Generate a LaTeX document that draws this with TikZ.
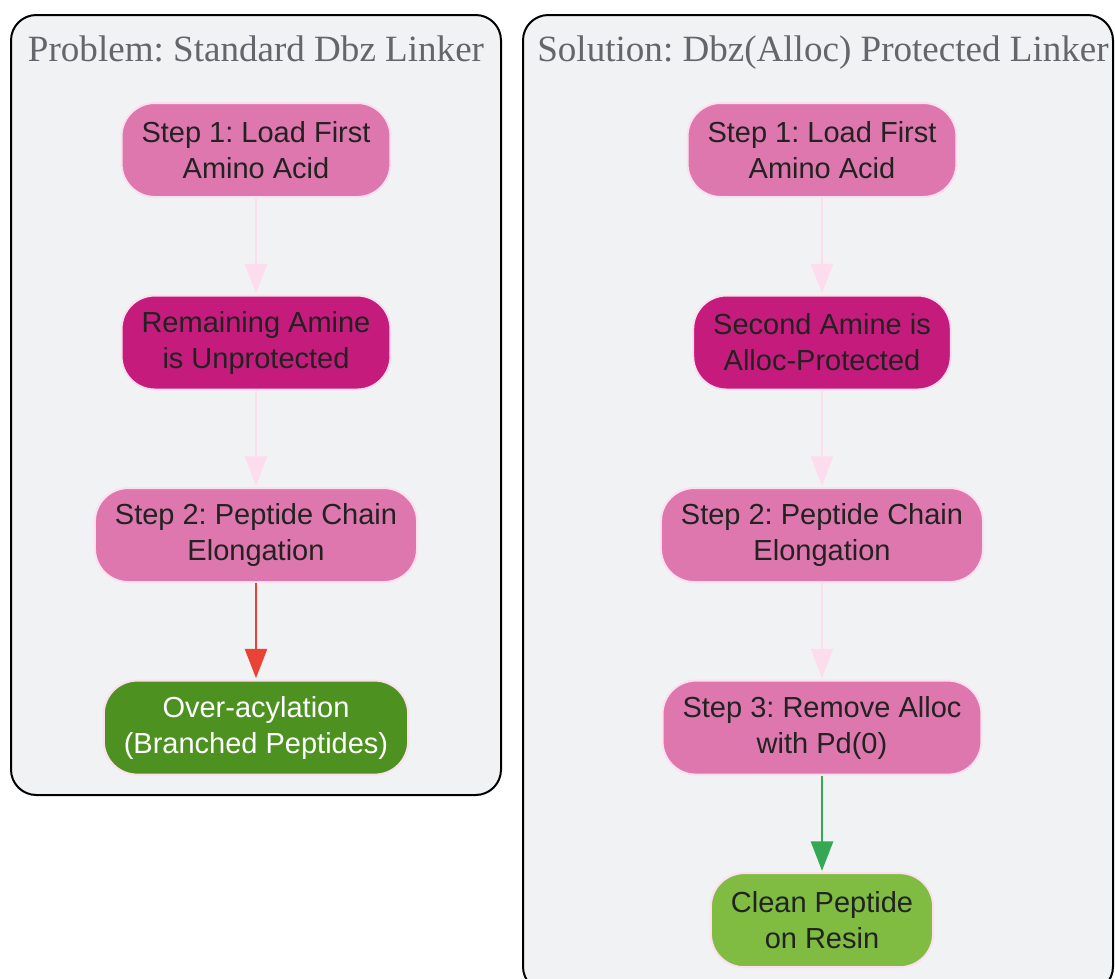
\documentclass[tikz,border=0pt]{standalone}
\usepackage{fontspec}
\setmainfont{Liberation Sans}
\newfontfamily\titlefont{Liberation Serif}
\usepackage{tikz}
\usetikzlibrary{positioning,arrows.meta}
\frenchspacing

\definecolor{panelfill}{HTML}{F1F2F4}
\definecolor{titlegray}{HTML}{63666A}
\definecolor{stepfill}{HTML}{DE77AE}
\definecolor{aminefill}{HTML}{C51B7D}
\definecolor{badfill}{HTML}{4D9221}
\definecolor{goodfill}{HTML}{7FBC41}
\definecolor{nodeline}{HTML}{FDE0EF}
\definecolor{nodetext}{HTML}{222222}
\definecolor{softarrow}{HTML}{FDDDED}
\definecolor{redarrow}{HTML}{EA4335}
\definecolor{greenarrow}{HTML}{34A853}

\begin{document}
\begin{tikzpicture}[x=0.75pt, y=-0.75pt, node distance=72.4pt,
    panel/.style={draw=black, line width=1.5pt, fill=panelfill, rounded corners=19pt},
    paneltitle/.style={text=titlegray, anchor=base, font=\titlefont\fontsize{27.8}{32}\selectfont},
    stepbox/.style={rectangle, rounded corners=25pt, draw=nodeline, line width=1.5pt, fill=stepfill,
        text=nodetext, align=center, inner xsep=15pt, minimum height=70.5pt,
        font=\fontsize{21.75}{27}\selectfont},
    aminebox/.style={stepbox, fill=aminefill},
    badbox/.style={stepbox, fill=badfill, text=white},
    goodbox/.style={stepbox, fill=goodfill},
    flow/.style={draw=softarrow, line width=1.6pt, -{Triangle[length=22pt,width=16.5pt]}, shorten >=1pt},
    badflow/.style={flow, draw=redarrow, line width=1.9pt},
    goodflow/.style={flow, draw=greenarrow, line width=1.9pt}]

    \useasboundingbox (0,0) rectangle (1115,979);

    % Panels
    \draw [panel] (11,15) rectangle (501,795);
    \draw [panel] (523,15) rectangle (1113,992);
    \node [paneltitle] (probtitle) at (256,61) {Problem: Standard Dbz Linker};
    \node [paneltitle] (soltitle) at (823,61) {Solution: Dbz(Alloc) Protected Linker};

    % Problem column
    \node [stepbox] (pload) at (256,150) {Step 1: Load First\\Amino Acid};
    \node [aminebox, below=of pload] (pamine) {Remaining Amine\\is Unprotected};
    \node [stepbox, below=of pamine] (pchain) {Step 2: Peptide Chain\\Elongation};
    \node [badbox, below=of pchain] (pover) {Over-acylation\\(Branched Peptides)};

    % Solution column
    \node [stepbox] (sload) at (822,150) {Step 1: Load First\\Amino Acid};
    \node [aminebox, below=of sload] (samine) {Second Amine is\\Alloc-Protected};
    \node [stepbox, below=of samine] (schain) {Step 2: Peptide Chain\\Elongation};
    \node [stepbox, below=of schain] (salloc) {Step 3: Remove Alloc\\with Pd(0)};
    \node [goodbox, below=of salloc] (sclean) {Clean Peptide\\on Resin};

    % Arrows
    \draw [flow] (pload) -- (pamine);
    \draw [flow] (pamine) -- (pchain);
    \draw [badflow] (pchain) -- (pover);

    \draw [flow] (sload) -- (samine);
    \draw [flow] (samine) -- (schain);
    \draw [flow] (schain) -- (salloc);
    \draw [goodflow] (salloc) -- (sclean);

\end{tikzpicture}
\end{document}
